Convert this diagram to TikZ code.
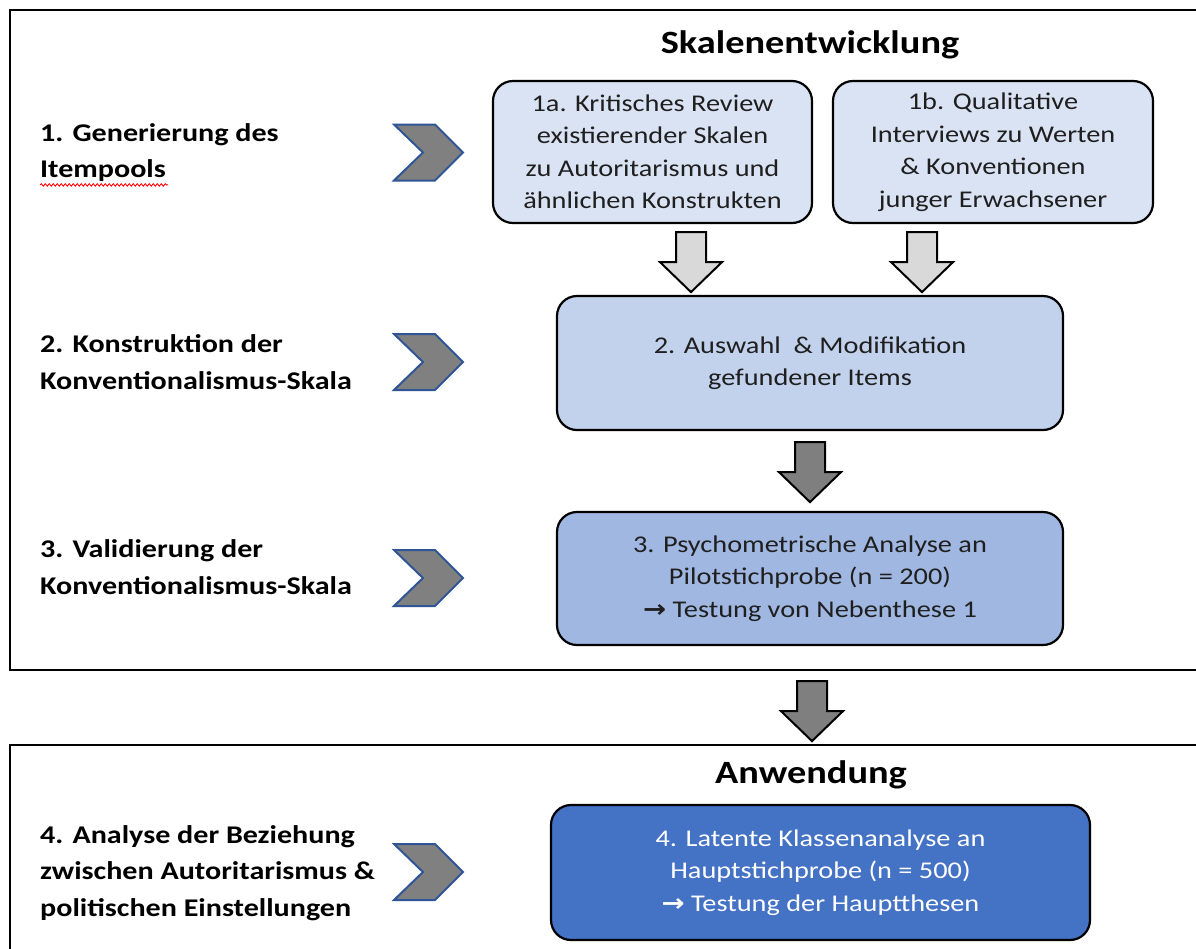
\documentclass[tikz,border=0pt]{standalone}
\usepackage{fontspec}
\setmainfont{Carlito}[FakeStretch=1.18]
\newfontfamily\djv{DejaVu Sans}[FakeStretch=1.15]
\usetikzlibrary{decorations.pathmorphing}
\definecolor{cA}{HTML}{DAE3F3}
\definecolor{cB}{HTML}{C2D1EC}
\definecolor{cC}{HTML}{A0B7E1}
\definecolor{cD}{HTML}{4472C4}
\definecolor{chevfill}{HTML}{808080}
\definecolor{chevline}{HTML}{2F5597}
\definecolor{arrlight}{HTML}{D9D9D9}
\definecolor{arrdark}{HTML}{7F7F7F}
\tikzset{
  frame/.style={draw=black, line width=2.6pt},
  stepbox/.style={draw=black, line width=2.2pt, rounded corners=20pt, align=center,
    font=\fontsize{24}{32.5}\selectfont, inner sep=0pt, text=black!88},
  lbl/.style={anchor=west, align=left, font=\fontsize{25.5}{36.5}\selectfont\bfseries, inner sep=0pt},
  ttl/.style={font=\fontsize{32.5}{38}\selectfont\bfseries, inner sep=0pt},
  pics/downarr/.style={code={
    \draw[line width=2pt, fill=#1, line join=miter]
      (-15,0) -- (15,0) -- (15,30) -- (31,30) -- (0,60) -- (-31,30) -- (-15,30) -- cycle;}},
  pics/chev/.style={code={
    \draw[line width=2pt, draw=chevline, fill=chevfill, line join=miter]
      (-34,-28) -- (7,-28) -- (35,0) -- (7,28) -- (-34,28) -- (-5,0) -- cycle;}},
}
\newcommand{\arr}{{\djv\bfseries\fontsize{24}{32}\selectfont →}}
\begin{document}
\begin{tikzpicture}[x=1pt,y=-1pt]
\useasboundingbox (0,0) rectangle (1196,948);
\fill[white] (0,0) rectangle (1196,948);
% frames
\draw[frame] (10,10) rectangle (1215,670);
\draw[frame] (10,745) rectangle (1215,965);
% titles
\node[ttl] (t1) at (810,45) {Skalenentwicklung};
\node[ttl] (t2) at (811,775) {Anwendung};
% boxes
\node[stepbox, fill=cA, minimum width=319pt, minimum height=142pt] (b1a) at (652.5,152)
  {1a. Kritisches Review\\existierender Skalen\\zu Autoritarismus und\\ähnlichen Konstrukten};
\node[stepbox, fill=cA, minimum width=320pt, minimum height=142pt] (b1b) at (993,152)
  {1b. Qualitative\\Interviews zu Werten\\\& Konventionen\\junger Erwachsener};
\node[stepbox, fill=cB, minimum width=506pt, minimum height=134pt] (b2) at (810,363)
  {2. Auswahl~ \& Modifikation\\gefundener Items};
\node[stepbox, fill=cC, minimum width=506pt, minimum height=133pt] (b3) at (810,578.5)
  {3. Psychometrische Analyse an\\Pilotstichprobe (n = 200)\\\arr\ Testung von Nebenthese 1};
\node[stepbox, fill=cD, text=white, minimum width=539pt, minimum height=135pt] (b4) at (820.5,872.5)
  {4. Latente Klassenanalyse an\\Hauptstichprobe (n = 500)\\\arr\ Testung der Hauptthesen};
% left labels
\node[lbl] (l1) at (40,152.5) {1. Generierung des\\Itempools};
\node[lbl] (l2) at (40,362) {2. Konstruktion der\\Konventionalismus-Skala};
\node[lbl] (l3) at (40,567) {3. Validierung der\\Konventionalismus-Skala};
\node[lbl] (l4) at (40,873) {4. Analyse der Beziehung\\zwischen Autoritarismus \&\\politischen Einstellungen};
\draw[red, line width=0.9pt, decorate, decoration={snake, amplitude=1.2pt, segment length=4pt}]
  (l1.south west) ++(0,3) -- ++(128,0);
% chevrons
\path (l1.west) ++(388,0) pic {chev};
\path (l2.west) ++(388,0) pic {chev};
\path (l3.west) ++(388,11) pic {chev};
\path (l4.west) ++(388,-1) pic {chev};
% block arrows
\path (b1a.south) ++(38.5,8) pic {downarr=arrlight};
\path (b1b.south) ++(-71,8) pic {downarr=arrlight};
\path (b2.south) ++(0,11) pic {downarr=arrdark};
\path (b3.south) ++(2,35) pic {downarr=arrdark};
\end{tikzpicture}
\end{document}
